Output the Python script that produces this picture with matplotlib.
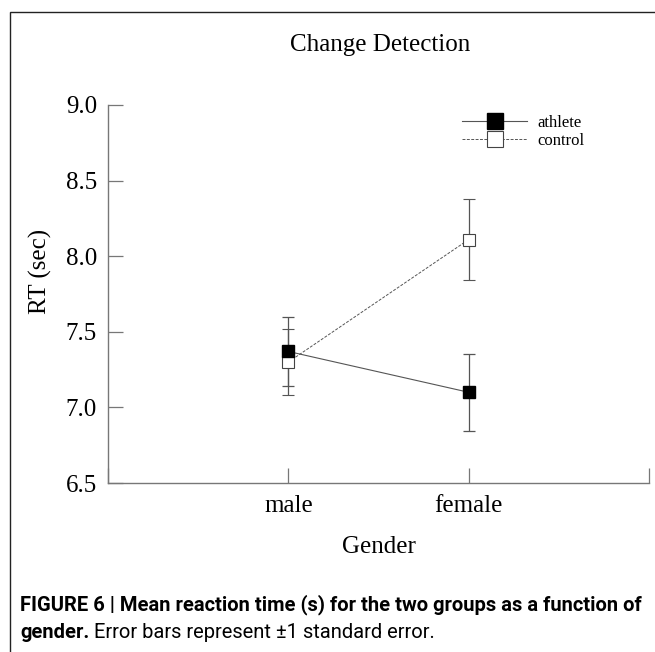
import numpy as np
import matplotlib.pyplot as plt
from matplotlib.lines import Line2D
from matplotlib.patches import Rectangle

# data
genders = ["male", "female"]
athlete_mean = [7.37, 7.10]
athlete_se = [0.23, 0.255]
control_mean = [7.30, 8.11]
control_se = [0.22, 0.27]
yticks = [6.5, 7.0, 7.5, 8.0, 8.5, 9.0]

W, H = 655, 652
fig = plt.figure(figsize=(W / 100, H / 100), dpi=100)
serif = "Liberation Serif"

ax = fig.add_axes([108 / W, 1 - 483 / H, 541 / W, 378 / H])

gray = "#555555"
dash = (0, (3, 1.5))
x = np.arange(1, len(genders) + 1)

# control first so athlete squares sit on top
ax.errorbar(x, control_mean, yerr=control_se, fmt="s", linestyle=dash,
            color=gray, lw=0.7, ms=8, mfc="white", mec="#444444", mew=0.8,
            ecolor=gray, elinewidth=0.9, capsize=4, capthick=0.9)
ax.errorbar(x, athlete_mean, yerr=athlete_se, fmt="s-",
            color=gray, lw=0.8, ms=8, mfc="black", mec="black",
            ecolor=gray, elinewidth=0.9, capsize=4, capthick=0.9)

ax.set_xlim(0, 3)
ax.set_ylim(6.5, 9.0)
ax.set_xticks([0, 1, 2, 3])
ax.set_xticklabels([""] + genders + [""])
ax.set_yticks(yticks)
ax.set_yticklabels([f"{v:.1f}" for v in yticks])

for s in ["top", "right"]:
    ax.spines[s].set_visible(False)
for s in ["left", "bottom"]:
    ax.spines[s].set_color("#777777")
    ax.spines[s].set_linewidth(1.0)

ax.tick_params(axis="both", direction="in", length=11, width=0.9, color="#777777",
               labelsize=18)
ax.tick_params(axis="y", pad=8)
ax.tick_params(axis="x", pad=9)
for lab in ax.get_xticklabels() + ax.get_yticklabels():
    lab.set_family(serif)

ax.set_ylabel("RT (sec)", fontsize=18, family=serif)
ax.yaxis.set_label_coords(-0.1035, 0.561)
ax.set_xlabel("Gender", fontsize=18, family=serif)
ax.xaxis.set_label_coords(0.5, -0.14)

# legend without error-bar ticks on the handles
handles = [
    Line2D([], [], color=gray, lw=0.8, marker="s", ms=11, mfc="black", mec="black"),
    Line2D([], [], color=gray, lw=0.7, ls=dash, marker="s", ms=11, mfc="white",
           mec="#444444", mew=0.8),
]
ax.legend(handles, ["athlete", "control"], loc="upper left",
          bbox_to_anchor=(462 / W, 1 - 115 / H), bbox_transform=fig.transFigure,
          frameon=False, prop={"family": serif, "size": 12},
          handlelength=3.9, handletextpad=0.6, labelspacing=0.12,
          borderpad=0, borderaxespad=0)

fig.text(380 / W, 1 - 45 / H, "Change Detection", ha="center", va="center",
         fontsize=18, family=serif)

# frame around the figure panel (runs off the right and bottom edges)
fig.patches.append(Rectangle((10 / W, -0.1), 2, 1 - 12 / H + 0.1,
                             transform=fig.transFigure, fill=False,
                             edgecolor="#222222", lw=1.0))

# caption: narrow sans, sized so the first line spans the panel like the original
cap = ["Roboto", "DejaVu Sans"]
line1 = "FIGURE 6 | Mean reaction time (s) for the two groups as a function of"
c1 = fig.text(20 / W, 1 - 605 / H, line1, ha="left", va="center",
              fontsize=13, fontweight="bold", family=cap)
fig.canvas.draw()
w = c1.get_window_extent().width
cap_size = 13 * 620 / w
c1.set_fontsize(cap_size)
t1 = fig.text(20 / W, 1 - 632 / H, "gender.", ha="left", va="center",
              fontsize=cap_size, fontweight="bold", family=cap)
fig.canvas.draw()
bb = t1.get_window_extent()
fig.text((bb.x1 + 5) / W, 1 - 632 / H, "Error bars represent \u00b11 standard error.",
         ha="left", va="center", fontsize=cap_size, family=cap)

fig.savefig("out.png", dpi=100)
